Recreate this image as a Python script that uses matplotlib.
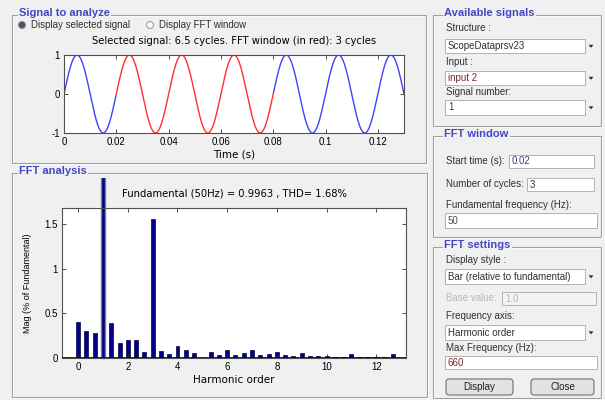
import numpy as np
import matplotlib
matplotlib.use('Agg')
from matplotlib import pyplot as plt
from matplotlib.patches import Rectangle, Circle, Polygon, FancyBboxPatch

plt.rcParams['font.family'] = ['Liberation Sans', 'DejaVu Sans']

# --- signal to analyze ---
f0 = 50.0                 # Hz
n_cycles = 6.5
amplitude = 1.0
window_start = 0.02       # s
window_cycles = 3
signal_ticks = [0, 0.02, 0.04, 0.06, 0.08, 0.1, 0.12]
signal_tick_labels = ['0', '0.02', '0.04', '0.06', '0.08', '0.1', '0.12']

# --- FFT (relative to fundamental, %), bins every 1/3 harmonic ---
fft_mag = [0.41, 0.30, 0.28, 100.0, 0.39, 0.167, 0.20, 0.20, 0.07, 1.56,
           0.083, 0.047, 0.134, 0.09, 0.058, 0.005, 0.07, 0.036, 0.09, 0.036,
           0.058, 0.09, 0.036, 0.047, 0.07, 0.036, 0.025, 0.058, 0.018, 0.018,
           0.018, 0.015, 0.007, 0.047, 0.01, 0.01, 0.015, 0.015, 0.047, 0.005]
fft_ticks = [0, 2, 4, 6, 8, 10, 12]
fft_yticks = [0, 0.5, 1, 1.5]
fft_ytick_labels = ['0', '0.5', '1', '1.5']
fund_value = 0.9963
thd = 1.68
max_freq = 660

W, H = 605, 400
BG = '#f0f0f0'
TITLE_BLUE = '#4646c8'
GRID = '#a0a0a0'
GUI_FS = 7.0

fig = plt.figure(figsize=(W / 100, H / 100), dpi=100)
fig.patch.set_facecolor(BG)
bg = fig.add_axes([0, 0, 1, 1], zorder=-1)
bg.set_xlim(0, W)
bg.set_ylim(H, 0)
bg.axis('off')


def px_axes(l, t, r, b):
    return fig.add_axes([l / W, 1 - b / H, (r - l) / W, (b - t) / H])


def panel(x0, y0, x1, y1, title, tx):
    bg.add_patch(Rectangle((x0 + 1, y0 + 1), x1 - x0, y1 - y0, fill=False, ec='white', lw=0.8))
    bg.add_patch(Rectangle((x0, y0), x1 - x0, y1 - y0, fill=False, ec=GRID, lw=0.8))
    bg.text(tx, y0 - 2, title, color=TITLE_BLUE, fontsize=8, fontweight='bold',
            va='center', ha='left', bbox=dict(fc=BG, ec='none', pad=1))


def label(x, y, s, color='#303030'):
    bg.text(x, y, s, fontsize=GUI_FS, va='center', ha='left', color=color)


def edit_box(x0, y0, x1, y1, s, color='#303030', fc='white'):
    bg.add_patch(Rectangle((x0, y0), x1 - x0, y1 - y0, fc=fc, ec='#a8a8a8', lw=0.6))
    bg.text(x0 + 3, (y0 + y1) / 2, s, fontsize=GUI_FS, va='center', ha='left', color=color)


def popup(x0, y0, x1, y1, s, color='#303030'):
    edit_box(x0, y0, x1 - 12, y1, s, color)
    cx, cy = x1 - 6, (y0 + y1) / 2
    bg.add_patch(Polygon([(cx - 2.5, cy - 1.2), (cx + 2.5, cy - 1.2), (cx, cy + 1.8)],
                         closed=True, fc='#303030', ec='none'))


def button(x0, y0, x1, y1, s):
    bg.add_patch(FancyBboxPatch((x0, y0), x1 - x0, y1 - y0, boxstyle='round,pad=0,rounding_size=3',
                                fc='#e2e2e2', ec='#707070', lw=0.8))
    bg.text((x0 + x1) / 2, (y0 + y1) / 2, s, fontsize=GUI_FS, va='center', ha='center', color='#202020')


# ---------- left panels ----------
panel(12, 15, 426, 163, 'Signal to analyze', 19)
bg.add_patch(Circle((22, 25), 3.5, fc='#505060', ec='#8090a0', lw=0.8))
label(31, 25, 'Display selected signal')
bg.add_patch(Circle((150, 25), 3.5, fc='#f8f8f8', ec='#a0a0a0', lw=0.8))
label(159, 25, 'Display FFT window')

panel(12, 173, 427, 397, 'FFT analysis', 19)

# ---------- signal plot ----------
ax1 = px_axes(64, 55, 404, 133)
t = np.linspace(0, n_cycles / f0, 1301)
y = amplitude * np.sin(2 * np.pi * f0 * t)
t_end = window_start + window_cycles / f0
in_win = (t >= window_start) & (t <= t_end)
y_blue = np.where(in_win, np.nan, y)
y_red = np.where(in_win, y, np.nan)
ax1.plot(t, y_blue, color='#4040ff', lw=1.0)
ax1.plot(t, y_red, color='#ff3030', lw=1.0)
ax1.set_xlim(0, n_cycles / f0)
ax1.set_ylim(-1, 1)
ax1.set_xticks(signal_ticks)
ax1.set_xticklabels(signal_tick_labels)
ax1.set_yticks([-1, 0, 1])
ax1.set_yticklabels(['-1', '0', '1'])
ax1.set_xlabel('Time (s)', fontsize=7.5, labelpad=2, family='DejaVu Sans')
ax1.set_title('Selected signal: %g cycles. FFT window (in red): %d cycles' % (n_cycles, window_cycles),
              fontsize=7.2, pad=8, family='DejaVu Sans')

# ---------- FFT plot ----------
ax2 = px_axes(62, 208, 406, 358)
harmonic_order = np.arange(len(fft_mag)) / 3
bars = ax2.bar(harmonic_order, fft_mag, width=0.16, color='#00008c', edgecolor='#000040', lw=0.5)
fund_bar = bars[3]
fund_bar.set_edgecolor('#808080')
fund_bar.set_linewidth(1.0)
clip = Rectangle((0, 178), W, H - 178, transform=bg.transData)
fund_bar.set_clip_path(clip)
ax2.axhline(0, color='black', lw=1.2, zorder=3)
ax2.set_xlim(-0.65, max_freq / f0)
ax2.set_ylim(0, 1.685)
ax2.set_xticks(fft_ticks)
ax2.set_yticks(fft_yticks)
ax2.set_yticklabels(fft_ytick_labels)
ax2.set_xlabel('Harmonic order', fontsize=7.5, labelpad=2, family='DejaVu Sans')
ax2.set_ylabel('Mag (% of Fundamental)', fontsize=6.5, labelpad=9)
ax2.set_title('Fundamental (%dHz) = %.4f , THD= %.2f%%' % (f0, fund_value, thd),
              fontsize=7.2, pad=8, family='DejaVu Sans')

for ax in (ax1, ax2):
    ax.set_facecolor('white')
    for sp in ax.spines.values():
        sp.set_color('#505050')
        sp.set_linewidth(0.8)
    ax.tick_params(direction='in', length=3, width=0.6, top=True, right=True,
                   labelsize=7, pad=3, colors='#303030', labelcolor='black')

# ---------- right panels ----------
panel(433, 15, 601, 126, 'Available signals', 444)
label(446, 28, 'Structure :')
popup(445, 39, 597, 53, 'ScopeDataprsv23')
label(446, 62, 'Input :')
popup(445, 71, 597, 85, 'input 2', color='#7a2a2a')
label(446, 92, 'Signal number:')
popup(445, 100, 597, 115, '1', color='#7a2a2a')

panel(433, 136, 601, 237, 'FFT window', 444)
label(446, 161, 'Start time (s):')
edit_box(509, 155, 594, 168, '0.02', color='#404080')
label(446, 184, 'Number of cycles:')
edit_box(527, 178, 594, 191, '3')
label(446, 205, 'Fundamental frequency (Hz):')
edit_box(445, 213, 597, 228, '50', color='#505050')

panel(433, 247, 601, 398, 'FFT settings', 444)
label(446, 260, 'Display style :')
popup(445, 269, 597, 284, 'Bar (relative to fundamental)')
label(446, 298, 'Base value:', color='#b8b8b8')
edit_box(502, 292, 596, 305, '1.0', color='#b8b8b8', fc='#f4f4f4')
label(446, 316, 'Frequency axis:')
popup(445, 325, 597, 340, 'Harmonic order')
label(446, 348, 'Max Frequency (Hz):')
edit_box(445, 356, 597, 369, str(max_freq), color='#7a2a2a')
button(446, 379, 513, 395, 'Display')
button(531, 379, 594, 395, 'Close')

fig.savefig('out.png', dpi=100, facecolor=fig.get_facecolor())
